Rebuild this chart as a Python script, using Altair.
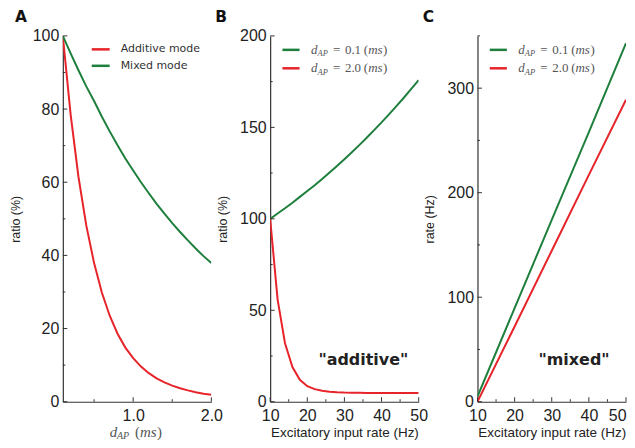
import altair as alt
import pandas as pd

# ---------------- data ----------------
# Panel A: ratio (%) vs d_AP (ms)
A_dap = [0.1, 0.2, 0.3, 0.4, 0.5, 0.6, 0.7, 0.8, 0.9, 1.0,
         1.1, 1.2, 1.3, 1.4, 1.5, 1.6, 1.7, 1.8, 1.9, 2.0]
A_additive = [100, 78.5, 61.5, 48.2, 37.9, 29.8, 23.5, 18.6, 14.8, 11.9,
              9.6, 7.8, 6.4, 5.3, 4.4, 3.7, 3.1, 2.6, 2.2, 1.9]
A_mixed = [100, 95.2, 90.6, 86.2, 82.2, 77.9, 73.9, 70.1, 66.5, 63.2,
           60.0, 57.0, 54.1, 51.4, 48.8, 46.4, 44.1, 41.9, 39.8, 37.9]
A_names = ["Additive mode", "Mixed mode"]

# Panel B: ratio (%) vs excitatory input rate (Hz)
B_rate = [10, 12, 14, 16, 18, 20, 22, 24, 26, 28, 30,
          32, 34, 36, 38, 40, 42, 44, 46, 48, 50]
B_d01 = [100, 102.9, 105.8, 108.8, 112.0, 115.2, 118.4, 121.8, 125.3, 128.9, 132.6,
         136.4, 140.3, 144.3, 148.5, 152.7, 157.1, 161.6, 166.2, 171.0, 175.8]
B_d20 = [100, 56, 32, 19, 12, 8.5, 6.9, 6.0, 5.5, 5.2, 5.0,
         4.9, 4.9, 4.8, 4.8, 4.8, 4.8, 4.8, 4.8, 4.8, 4.8]

# Panel C: rate (Hz) vs excitatory input rate (Hz)
C_rate = [10, 20, 30, 40, 50]
C_d01 = [5, 89.5, 174, 258, 343]
C_d20 = [0, 72, 144.5, 217, 289]

dap_labels = ["0.1", "2.0"]
panel_letters = ["A", "B", "C"]
annotations = ['"additive"', '"mixed"']

# ---------------- style ----------------
RED = "#e8242b"
GREEN = "#1f7f3d"
AXC = "#333333"
W, H = 149, 367
SANS = "Liberation Sans"
SERIF = "Liberation Serif"


def one(t):
    return pd.DataFrame({"t": [t]})


def build_panel(x_vals, series, xdom, ydom, x_major, x_minor, y_major, y_minor,
                x_fmt, x_title, y_title, last_right=False):
    rows = []
    for name, vals, col in series:
        for xv, yv in zip(x_vals, vals):
            rows.append({"x": xv, "y": yv, "s": name, "c": col})
    df = pd.DataFrame(rows)
    xs = alt.Scale(domain=xdom, nice=False, zero=False)
    ys = alt.Scale(domain=ydom, nice=False, zero=False)
    xkw = dict(values=x_major, format=x_fmt, ticks=False, grid=False,
               labelFlush=False, labelOverlap=False, labelPadding=6,
               titlePadding=2, title=x_title if x_title else "")
    if last_right:
        xkw["labelAlign"] = alt.condition(f"datum.value == {x_major[-1]}",
                                          alt.value("right"), alt.value("center"))
    xaxis = alt.Axis(**xkw)
    yaxis = alt.Axis(values=y_major, title=y_title, ticks=False, grid=False,
                     labelFlush=False, labelOverlap=False, labelPadding=4,
                     titlePadding=10)
    lines = alt.Chart(df).mark_line(strokeWidth=2, clip=True).encode(
        x=alt.X("x:Q", scale=xs, axis=xaxis),
        y=alt.Y("y:Q", scale=ys, axis=yaxis),
        color=alt.Color("c:N", scale=None),
        detail="s:N",
    )
    layers = [lines]
    # inward ticks
    for vals, ln in ((y_major, 4.5), (y_minor, 2.5)):
        layers.append(alt.Chart(pd.DataFrame({"y": vals})).mark_rule(
            color=AXC, strokeWidth=1).encode(
            y=alt.Y("y:Q", scale=ys, axis=yaxis),
            x=alt.value(0), x2=alt.value(ln)))
    for vals, ln in ((x_major, 4.5), (x_minor, 2.5)):
        layers.append(alt.Chart(pd.DataFrame({"x": vals})).mark_rule(
            color=AXC, strokeWidth=1).encode(
            x=alt.X("x:Q", scale=xs, axis=xaxis),
            y=alt.value(H), y2=alt.value(H - ln)))
    return layers, xs, ys, xaxis, yaxis


def letter(t, dx):
    return alt.Chart(one(t)).mark_text(
        font="DejaVu Sans", fontWeight="bold", fontSize=15.5, color="#111",
        align="left", baseline="alphabetic").encode(
        text="t:N", x=alt.value(dx), y=alt.value(-14))


def math_pieces(x0, y0, parts):
    out = []
    for txt, dx, dy, fs, style in parts:
        out.append(alt.Chart(one(txt)).mark_text(
            font=SERIF, fontSize=fs, fontStyle=style, color="#555555",
            align="left", baseline="alphabetic").encode(
            text="t:N", x=alt.value(x0 + dx), y=alt.value(y0 + dy)))
    return out


def math_legend(values, colors):
    out = []
    for val, col, yy in zip(values, colors, (14, 32.5)):
        out.append(alt.Chart(one("")).mark_rule(color=col, strokeWidth=2.5).encode(
            x=alt.value(12.3), x2=alt.value(29.5), y=alt.value(yy)))
        parts = [("d", 0, 0, 13, "italic"), ("AP", 6.5, 2.5, 8.5, "italic"),
                 ("=", 22, 0, 13, "normal"), (val, 34, 0, 13, "normal"),
                 ("(", 53, 0, 13, "normal"), ("ms", 57.3, 0, 13, "italic"),
                 (")", 72.3, 0, 13, "normal")]
        out += math_pieces(41, yy + 4, parts)
    return out


def annotation(t, xv, yv, xs, ys, xaxis, yaxis):
    return (alt.Chart(pd.DataFrame({"x": [xv], "y": [yv], "t": [t]}))
            .mark_text(font="DejaVu Sans", fontWeight="bold", fontSize=16,
                       color="#222222", align="center", baseline="alphabetic")
            .encode(x=alt.X("x:Q", scale=xs, axis=xaxis),
                    y=alt.Y("y:Q", scale=ys, axis=yaxis), text="t:N"))


# ---------------- panel A ----------------
la, xa, ya, xax, yax = build_panel(
    A_dap, [(A_names[0], A_additive, RED), (A_names[1], A_mixed, GREEN)],
    [0.1, 2.0], [0, 100], [1.0, 2.0], [0.5, 1.5],
    [0, 20, 40, 60, 80, 100], [10, 30, 50, 70, 90], ".1f", None, "ratio (%)")
for name, col, yy in zip(A_names, [RED, GREEN], (13.5, 30)):
    la.append(alt.Chart(one("")).mark_rule(color=col, strokeWidth=2.5).encode(
        x=alt.value(29), x2=alt.value(47), y=alt.value(yy)))
    la.append(alt.Chart(one(name)).mark_text(
        font="DejaVu Sans", fontSize=11, color="#333333", align="left",
        baseline="middle").encode(text="t:N", x=alt.value(58), y=alt.value(yy)))
la += math_pieces(47, H + 35, [("d", 0, 0, 15, "italic"),
                               ("AP", 7.3, 2.5, 10, "italic"),
                               ("(", 25.5, 0, 15, "normal"),
                               ("ms", 30.5, 0, 15, "italic"),
                               (")", 47.5, 0, 15, "normal")])
la.append(letter(panel_letters[0], -48))
panelA = alt.layer(*la).properties(width=W, height=H)

# ---------------- panel B ----------------
lb, xb, yb, xbx, ybx = build_panel(
    B_rate, [("d01", B_d01, GREEN), ("d20", B_d20, RED)],
    [10, 50], [0, 200], [10, 20, 30, 40, 50], [15, 25, 35, 45],
    [0, 50, 100, 150, 200], [25, 75, 125, 175], "d",
    "Excitatory input rate (Hz)", "ratio (%)")
lb += math_legend(dap_labels, [GREEN, RED])
lb.append(annotation(annotations[0], 35.1, 20.2, xb, yb, xbx, ybx))
lb.append(letter(panel_letters[1], -55))
panelB = alt.layer(*lb).properties(width=W, height=H)

# ---------------- panel C ----------------
lc, xc, yc, xcx, ycx = build_panel(
    C_rate, [("d01", C_d01, GREEN), ("d20", C_d20, RED)],
    [10, 50], [0, 350], [10, 20, 30, 40, 50], [15, 25, 35, 45],
    [0, 100, 200, 300], [50, 150, 250, 350], "d",
    "Excitatory input rate (Hz)", "rate (Hz)", last_right=True)
lc += math_legend(dap_labels, [GREEN, RED])
lc.append(annotation(annotations[1], 36.0, 35, xc, yc, xcx, ycx))
lc.append(letter(panel_letters[2], -55))
panelC = alt.layer(*lc).properties(width=W, height=H)

chart = alt.hconcat(panelA, panelB, panelC, spacing=59, bounds="flush").properties(
    padding={"left": 1, "top": 1.3, "right": 0, "bottom": -2},
    background="white",
).configure_view(stroke=None).configure_axis(
    domainColor=AXC, domainWidth=1.2,
    labelFont=SANS, labelFontSize=16, labelColor="#222222",
    titleFont=SANS, titleFontSize=12.5, titleFontWeight="normal", titleColor="#222222",
).configure_axisX(titleFontSize=13.5)

chart.save("out.html", embed_options={"renderer": "svg", "actions": False})
